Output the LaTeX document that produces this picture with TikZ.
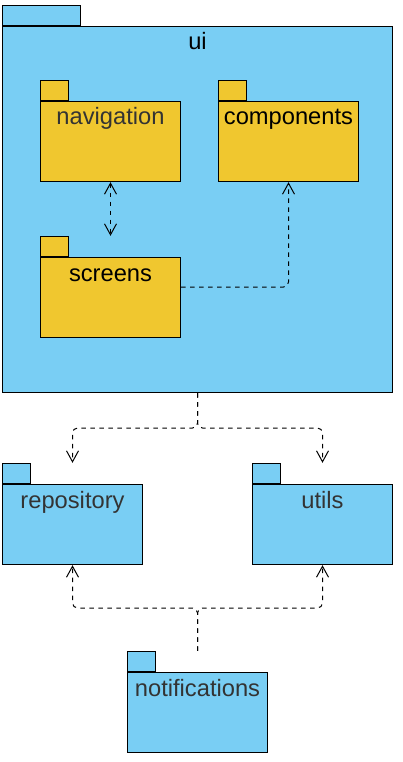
\documentclass[tikz,border=0pt]{standalone}
\usepackage{fontspec}
\setmainfont{Liberation Sans}
\definecolor{pkgblue}{RGB}{121,206,244}
\definecolor{pkgyellow}{RGB}{240,199,47}
\definecolor{labelgray}{RGB}{51,51,51}
\usetikzlibrary{arrows.meta,positioning,fit,calc}
\begin{document}
\begin{tikzpicture}[x=1pt,y=-1pt,
    pkgbody/.style={draw=black,line width=1pt,inner sep=0pt,
      minimum width=140pt,minimum height=80pt,anchor=north west},
    pkgtab/.style={draw=black,line width=1pt,inner sep=0pt,
      minimum width=28pt,minimum height=20pt,anchor=south west},
    pkgname/.style={font=\fontsize{23.7}{24}\selectfont,anchor=base,inner sep=0pt},
    pkgbox/.style={inner sep=0pt,draw=none},
    dep/.style={draw=black,line width=1pt,dash pattern=on 4.5pt off 4.5pt,
      rounded corners=5pt,-{Straight Barb[length=11pt,width=12pt]}}]
  \useasboundingbox (0,0) rectangle (402,762);
  % ui package
  \node[pkgbody,fill=pkgblue,minimum width=390pt,minimum height=366pt] (uibody) at (2,26) {};
  \node[pkgtab,fill=pkgblue,minimum width=78pt] (uitab) at (uibody.north west) {};
  \node[pkgbox,fit=(uibody)(uitab)] (ui) {};
  \node[pkgname] (uiname) at ([yshift=-24pt]uibody.north) {ui};
  % inner packages
  \node[pkgbody,fill=pkgyellow] (navbody) at (40,101) {};
  \node[pkgtab,fill=pkgyellow] (navtab) at (navbody.north west) {};
  \node[pkgbox,fit=(navbody)(navtab)] (nav) {};
  \node[pkgname,text=labelgray] (navname) at ([yshift=-24pt]navbody.north) {navigation};
  \node[pkgbody,fill=pkgyellow] (compbody) at (218,101) {};
  \node[pkgtab,fill=pkgyellow] (comptab) at (compbody.north west) {};
  \node[pkgbox,fit=(compbody)(comptab)] (comp) {};
  \node[pkgname] (compname) at ([yshift=-24pt]compbody.north) {components};
  \node[pkgbody,fill=pkgyellow] (scrbody) at (40,257) {};
  \node[pkgtab,fill=pkgyellow] (scrtab) at (scrbody.north west) {};
  \node[pkgbox,fit=(scrbody)(scrtab)] (scr) {};
  \node[pkgname] (scrname) at ([yshift=-24pt]scrbody.north) {screens};
  % outer packages
  \node[pkgbody,fill=pkgblue] (repobody) at (2,484) {};
  \node[pkgtab,fill=pkgblue] (repotab) at (repobody.north west) {};
  \node[pkgbox,fit=(repobody)(repotab)] (repo) {};
  \node[pkgname,text=labelgray] (reponame) at ([yshift=-24pt]repobody.north) {repository};
  \node[pkgbody,fill=pkgblue] (utilbody) at (252,484) {};
  \node[pkgtab,fill=pkgblue] (utiltab) at (utilbody.north west) {};
  \node[pkgbox,fit=(utilbody)(utiltab)] (util) {};
  \node[pkgname,text=labelgray] (utilname) at ([yshift=-24pt]utilbody.north) {utils};
  \node[pkgbody,fill=pkgblue] (notifbody) at (127,672) {};
  \node[pkgtab,fill=pkgblue] (notiftab) at (notifbody.north west) {};
  \node[pkgbox,fit=(notifbody)(notiftab)] (notif) {};
  \node[pkgname,text=labelgray] (notifname) at ([yshift=-24pt]notifbody.north) {notifications};
  % dependencies
  \coordinate (uisplit) at ($(ui.south)!0.5!(ui.south |- repo.north)$);
  \coordinate (notifsplit) at ($(notif.north)!0.5!(notif.north |- repo.south)$);
  \draw[dep,{Straight Barb[length=11pt,width=12pt]}-{Straight Barb[length=11pt,width=12pt]}] (nav.south) -- (scr.north);
  \draw[dep] (scr.east) -| (comp.south);
  \draw[dep] (ui.south) -- (uisplit) -| (repo.north);
  \draw[dep] (ui.south) -- (uisplit) -| (util.north);
  \draw[dep] (notif.north) -- (notifsplit) -| (repo.south);
  \draw[dep] (notif.north) -- (notifsplit) -| (util.south);
\end{tikzpicture}
\end{document}
